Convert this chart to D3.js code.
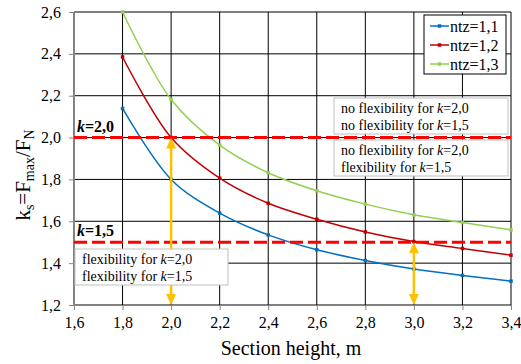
<!DOCTYPE html>
<html>
<head>
<meta charset="utf-8">
<script src="https://cdn.jsdelivr.net/npm/d3@7"></script>
<style>
  body { margin: 0; background: #fff; }
</style>
</head>
<body>
<div id="root"></div>
<script>
const width = 521;
const height = 364;
const serif = '"Liberation Serif", "Times New Roman", serif';

// data
const heights = [1.8, 2.0, 2.2, 2.4, 2.6, 2.8, 3.0, 3.2, 3.4];
const ntz11 = [2.139, 1.80, 1.639, 1.535, 1.464, 1.413, 1.372, 1.341, 1.314];
const ntz12 = [2.385, 2.00, 1.806, 1.686, 1.610, 1.549, 1.503, 1.470, 1.438];
const ntz13 = [2.60, 2.182, 1.964, 1.832, 1.746, 1.682, 1.631, 1.594, 1.559];
const seriesNames = ['ntz=1,1', 'ntz=1,2', 'ntz=1,3'];
const seriesColors = ['#0070C0', '#C00000', '#92D050'];
const xTicks = [1.6, 1.8, 2.0, 2.2, 2.4, 2.6, 2.8, 3.0, 3.2, 3.4];
const yTicks = [1.2, 1.4, 1.6, 1.8, 2.0, 2.2, 2.4, 2.6];
const kLevels = [2.0, 1.5];
const kLabels = ['2,0', '1,5'];
// arrows: [x, top value]
const arrows = [[2.0, 2.0], [3.0, 1.5]];

const svg = d3.select('#root')
  .append('svg')
  .attr('width', width).attr('height', height)
  .style('font-family', serif);

const padding = {left: 74, right: 10, top: 12, bottom: 59};

const xScale = d3.scaleLinear()
  .domain([1.6, 3.4])
  .range([padding.left, width - padding.right]);
const yScale = d3.scaleLinear()
  .domain([1.2, 2.6])
  .range([height - padding.bottom, padding.top]);

const fmt = d => d.toFixed(1).replace('.', ',');

// grid
svg.append('g').selectAll('line')
  .data(xTicks).enter().append('line')
  .attr('x1', d => xScale(d)).attr('x2', d => xScale(d))
  .attr('y1', yScale(2.6)).attr('y2', yScale(1.2))
  .attr('stroke', '#000').attr('stroke-width', 1);
svg.append('g').selectAll('line')
  .data(yTicks).enter().append('line')
  .attr('x1', xScale(1.6)).attr('x2', xScale(3.4))
  .attr('y1', d => yScale(d)).attr('y2', d => yScale(d))
  .attr('stroke', '#000').attr('stroke-width', 1);

// axes
const xAxis = d3.axisBottom(xScale).tickValues(xTicks).tickFormat(fmt).tickSize(5).tickPadding(7);
const yAxis = d3.axisLeft(yScale).tickValues(yTicks).tickFormat(fmt).tickSize(5).tickPadding(8);

const gx = svg.append('g')
  .attr('transform', `translate(0, ${yScale(1.2)})`)
  .call(xAxis);
const gy = svg.append('g')
  .attr('transform', `translate(${xScale(1.6)}, 0)`)
  .call(yAxis);
[gx, gy].forEach(g => {
  g.attr('font-family', null).attr('font-size', null);
  g.select('.domain').attr('stroke', '#868686');
  g.selectAll('.tick line').attr('stroke', '#868686');
  g.selectAll('text').attr('fill', '#000')
    .style('font-family', serif).style('font-size', '16px');
});

// series
const series = [ntz11, ntz12, ntz13];
const line = d3.line()
  .x((d, i) => xScale(heights[i]))
  .y(d => yScale(d))
  .curve(d3.curveCatmullRom.alpha(0.5));

series.forEach((s, k) => {
  svg.append('path')
    .datum(s)
    .attr('d', line)
    .attr('fill', 'none')
    .attr('stroke', seriesColors[k])
    .attr('stroke-width', 1.5);
  svg.append('g').selectAll('rect')
    .data(s).enter().append('rect')
    .attr('x', (d, i) => xScale(heights[i]) - 1.75)
    .attr('y', d => yScale(d) - 1.75)
    .attr('width', 3.5).attr('height', 3.5)
    .attr('fill', seriesColors[k]);
});

// k threshold lines
svg.append('g').selectAll('line')
  .data(kLevels).enter().append('line')
  .attr('x1', xScale(1.6)).attr('x2', xScale(3.4))
  .attr('y1', d => yScale(d)).attr('y2', d => yScale(d))
  .attr('stroke', '#FF0000').attr('stroke-width', 3)
  .attr('stroke-dasharray', '13,5');

const kt = svg.append('g').selectAll('text')
  .data(kLevels).enter().append('text')
  .attr('x', xScale(1.6) + 3)
  .attr('y', d => yScale(d) - 6)
  .style('font-size', '16px').attr('font-weight', 'bold');
kt.append('tspan').attr('font-style', 'italic').text('k');
kt.append('tspan').text((d, i) => '=' + kLabels[i]);

// yellow arrows
const ac = '#FFC000';
arrows.forEach(a => {
  const x = xScale(a[0]);
  const yt = yScale(a[1]);
  const yb = yScale(1.2);
  svg.append('line')
    .attr('x1', x).attr('x2', x).attr('y1', yt + 10).attr('y2', yb - 10)
    .attr('stroke', ac).attr('stroke-width', 2.5);
  svg.append('path')
    .attr('d', `M${x},${yt} L${x - 5},${yt + 11} L${x + 5},${yt + 11} Z`)
    .attr('fill', ac);
  svg.append('path')
    .attr('d', `M${x},${yb} L${x - 5},${yb - 11} L${x + 5},${yb - 11} Z`)
    .attr('fill', ac);
});

// text boxes
const boxes = [
  {x: 334, y: 98, w: 174, h: 36, lines: [['no flexibility for ', '2,0'], ['no flexibility for ', '1,5']]},
  {x: 334, y: 140, w: 174, h: 36, lines: [['no flexibility for ', '2,0'], ['flexibility for ', '1,5']]},
  {x: 75, y: 249, w: 153, h: 36, lines: [['flexibility for ', '2,0'], ['flexibility for ', '1,5']]}
];
boxes.forEach(b => {
  const g = svg.append('g');
  g.append('rect')
    .attr('x', b.x).attr('y', b.y).attr('width', b.w).attr('height', b.h)
    .attr('fill', '#fff').attr('stroke', '#bfbfbf').attr('stroke-width', 1);
  b.lines.forEach((l, i) => {
    const t = g.append('text')
      .attr('x', b.x + 7).attr('y', b.y + 15 + i * 17)
      .style('font-size', '14px');
    t.append('tspan').text(l[0]);
    t.append('tspan').attr('font-style', 'italic').text('k');
    t.append('tspan').text('=' + l[1]);
  });
});

// legend
const lg = svg.append('g').attr('transform', 'translate(424, 15)');
lg.append('rect')
  .attr('width', 82).attr('height', 59)
  .attr('fill', '#fff').attr('stroke', '#000').attr('stroke-width', 1);
seriesNames.forEach((n, i) => {
  const yy = 11 + i * 19;
  lg.append('line')
    .attr('x1', 6).attr('x2', 25).attr('y1', yy).attr('y2', yy)
    .attr('stroke', seriesColors[i]).attr('stroke-width', 1.5);
  lg.append('rect')
    .attr('x', 13.75).attr('y', yy - 1.75).attr('width', 3.5).attr('height', 3.5)
    .attr('fill', seriesColors[i]);
  lg.append('text')
    .attr('x', 26).attr('y', yy + 5.5)
    .style('font-size', '16px')
    .text(n);
});

// axis titles
svg.append('text')
  .attr('x', 291).attr('y', 355)
  .attr('text-anchor', 'middle')
  .style('font-size', '20px')
  .text('Section height, m');

const yt = svg.append('text')
  .attr('transform', 'translate(30, 175) rotate(-90)')
  .attr('text-anchor', 'middle')
  .style('font-size', '21px');
yt.append('tspan').text('k');
yt.append('tspan').style('font-size', '14px').attr('dy', 4).text('s');
yt.append('tspan').attr('dy', -4).text('=F');
yt.append('tspan').style('font-size', '14px').attr('dy', 4).text('max');
yt.append('tspan').attr('dy', -4).text('/F');
yt.append('tspan').style('font-size', '14px').attr('dy', 4).text('N');
</script>
</body>
</html>
